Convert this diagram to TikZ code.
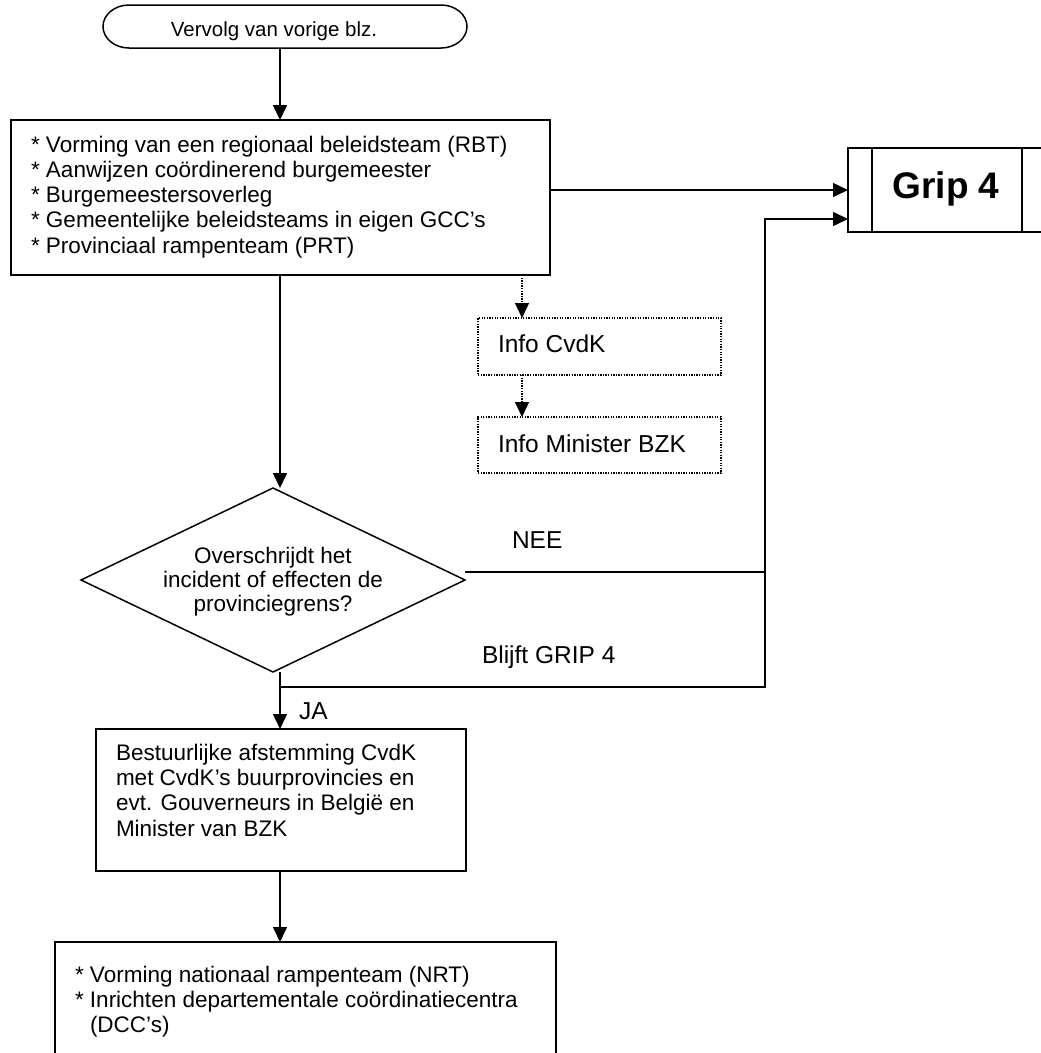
\documentclass[tikz,border=0pt]{standalone}
\usepackage{fontspec}
\setmainfont{Liberation Sans}
\usetikzlibrary{arrows.meta,shapes.geometric,calc}
\begin{document}
\begin{tikzpicture}[x=1pt,y=-1pt,
  every node/.style={inner sep=0pt, outer sep=0pt},
  box/.style={draw, line width=1.5pt, rectangle, inner sep=0pt},
  dotbox/.style={draw, line width=1.3pt, dash pattern=on 1.3pt off 1.3pt, rectangle, inner sep=0pt},
  txt/.style={font=\fontsize{22.5}{25.3}\selectfont, align=left, anchor=base west},
  lbl/.style={font=\fontsize{24.5}{28}\selectfont, anchor=base west},
  con/.style={line width=1.5pt},
  arr/.style={line width=1.5pt, -{Triangle[length=15pt,width=14pt]}},
  dotarr/.style={line width=1.3pt, dash pattern=on 1.3pt off 1.3pt, -{Triangle[length=15pt,width=14pt]}}]
\useasboundingbox (0,0) rectangle (1041,1053);
\clip (0,0) rectangle (1041,1053);

% helper columns
\coordinate (spine) at (280,0);
\coordinate (dotx) at (522,0);
\coordinate (rail) at (765,0);

% start terminator (elliptical ends)
\node[minimum width=364pt, minimum height=43pt] (start) at (285,26.5) {};
\draw[con] ($(start.north west)+(26,0)$) -- ($(start.north east)+(-26,0)$)
  arc[start angle=-90, end angle=90, x radius=26, y radius=21.5]
  -- ($(start.south west)+(26,0)$)
  arc[start angle=90, end angle=270, x radius=26, y radius=21.5] -- cycle;
\node[anchor=base, font=\fontsize{20.5}{24}\selectfont] (starttxt) at (274,36) {Vervolg van vorige blz.};

% box 1 (base anchor = last line)
\node[box, minimum width=539pt, minimum height=155pt] (b1) at (280.5,197.5) {};
\node[txt] (b1txt) at (31,253.2) {* Vorming van een regionaal beleidsteam (RBT)\\* Aanwijzen coördinerend burgemeester\\* Burgemeestersoverleg\\* Gemeentelijke beleidsteams in eigen GCC’s\\* Provinciaal rampenteam (PRT)};

% Grip 4 (predefined process)
\node[box, minimum width=212pt, minimum height=84pt] (grip) at (954,190) {};
\draw[con] ($(grip.north west)+(24,0)$) -- ($(grip.south west)+(24,0)$);
\draw[con] ($(grip.north west)+(174,0)$) -- ($(grip.south west)+(174,0)$);
\node[anchor=base, font=\bfseries\fontsize{37}{40}\selectfont] (griptxt) at (946,198) {Grip 4};
\coordinate (g2) at ($(grip.south west)+(0,-13)$);

% info boxes
\node[dotbox, minimum width=243pt, minimum height=57pt] (i1) at (599.5,346.5) {};
\node[lbl] (i1txt) at (498,352) {Info CvdK};
\node[dotbox, minimum width=243pt, minimum height=56pt] (i2) at (599.5,445) {};
\node[lbl] (i2txt) at (498,452) {Info Minister BZK};

% decision
\node[draw, line width=1.5pt, diamond, minimum width=384pt, minimum height=184pt, inner sep=0pt] (dia) at (273,580) {};
\node[anchor=base, align=center, font=\fontsize{22.5}{24}\selectfont] (diatxt) at (273,611) {Overschrijdt het\\incident of effecten de\\provinciegrens?};
\coordinate (nee) at ($(dia.east)+(0,-8)$);
\coordinate (split) at (280,687);

% box 2
\node[box, minimum width=370pt, minimum height=142pt] (b2) at (281,800) {};
\node[txt] (b2txt) at (116,836) {Bestuurlijke afstemming CvdK\\met CvdK’s buurprovincies en\\evt. Gouverneurs in België en\\Minister van BZK};

% box 3
\node[box, minimum width=501pt, minimum height=138pt] (b3) at (305.5,1011) {};
\node[txt] (b3txt) at (75,1032.6) {* Vorming nationaal rampenteam (NRT)\\* Inrichten departementale coördinatiecentra\\\hspace*{15pt}(DCC’s)};

% labels
\node[lbl] (nee lbl) at (512,548) {NEE};
\node[lbl] (blijft lbl) at (482,663) {Blijft GRIP 4};
\node[lbl] (ja lbl) at (299,719) {JA};

% connectors
\draw[arr] (start.south -| spine) -- (b1.north -| spine);
\draw[arr] (b1.east |- grip.west) -- (grip.west);
\draw[dotarr] (b1.south -| dotx) -- (i1.north -| dotx);
\draw[dotarr] (i1.south -| dotx) -- (i2.north -| dotx);
\draw[arr] (b1.south -| spine) -- (dia.north -| spine);
\draw[con] (nee) -- (nee -| rail);
\draw[arr] (split) -- (split -| rail) -- (rail |- g2) -- (g2);
\draw[arr] (dia.south -| spine) -- (b2.north -| spine);
\draw[arr] (b2.south -| spine) -- (b3.north -| spine);
\end{tikzpicture}
\end{document}
